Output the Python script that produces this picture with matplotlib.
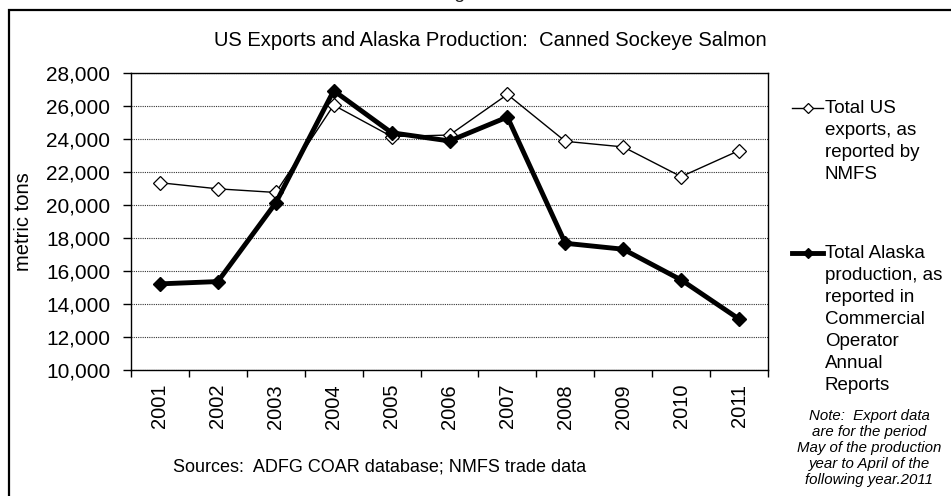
import matplotlib
matplotlib.use("Agg")
import matplotlib.pyplot as plt
from matplotlib.patches import Rectangle
from matplotlib.lines import Line2D
from matplotlib.ticker import FuncFormatter, FixedLocator

plt.rcParams['font.family'] = ['Liberation Sans', 'DejaVu Sans']

years = ["2001", "2002", "2003", "2004", "2005", "2006", "2007", "2008", "2009", "2010", "2011"]
us_exports = [21350, 20980, 20760, 26050, 24150, 24240, 26700, 23860, 23520, 21720, 23300]
alaska_prod = [15220, 15360, 20130, 26930, 24380, 23880, 25330, 17680, 17320, 15460, 13090]

exports_label = "Total US\nexports, as\nreported by\nNMFS"
alaska_label = "Total Alaska\nproduction, as\nreported in\nCommercial\nOperator\nAnnual\nReports"

W, H = 951, 496
fig = plt.figure(figsize=(W / 100, H / 100), dpi=100)

def px(xp, yp):
    # pixel position (from top-left) -> figure fraction
    return xp / W, 1 - yp / H

# outer border of the figure box
fig.patches.append(Rectangle((9 / W, -0.1), 1.2, 1 - 10 / H + 0.1, transform=fig.transFigure,
                             fill=False, edgecolor="black", linewidth=1.6))
# page caption, cut off at the top (only its descenders show)
fig.text(*px(474, -2), "Figure 6", ha="center", va="baseline", fontsize=14, color="#222222")

ax = fig.add_axes([131 / W, 1 - 370 / H, (768 - 131) / W, (370 - 73) / H])

x = list(range(len(years)))
ax.plot(x, us_exports, color="black", linewidth=1.0, marker="D", markersize=7,
        markerfacecolor="white", markeredgecolor="black", markeredgewidth=0.9, zorder=3)
ax.plot(x, alaska_prod, color="black", linewidth=3.5, marker="D", markersize=7,
        markerfacecolor="black", markeredgecolor="black", zorder=4)

ax.set_xlim(-0.5, len(years) - 0.5)
ax.set_ylim(10000, 28000)
ax.set_yticks(range(10000, 28001, 2000))
ax.yaxis.set_major_formatter(FuncFormatter(lambda v, p: f"{int(v):,}"))
ax.grid(axis="y", linestyle=(0, (1, 1)), color="#333333", linewidth=0.8)
ax.set_axisbelow(True)

ax.set_xticks(x)
ax.set_xticklabels(years, rotation=90, fontsize=14.5)
ax.xaxis.set_minor_locator(FixedLocator([i - 0.5 for i in range(len(years) + 1)]))
ax.tick_params(axis="x", which="major", length=0, pad=10)
ax.tick_params(axis="x", which="minor", length=5, width=1, direction="out")
ax.tick_params(axis="y", length=6, width=1, direction="out", labelsize=15, pad=9)

for s in ax.spines.values():
    s.set_linewidth(1.0)
    s.set_color("black")

ax.set_ylabel("metric tons", fontsize=14.5, labelpad=9)
fig.text(*px(490, 40), "US Exports and Alaska Production:  Canned Sockeye Salmon",
         ha="center", va="center", fontsize=14.5)
fig.text(*px(380, 467), "Sources:  ADFG COAR database; NMFS trade data",
         ha="center", va="center", fontsize=13)
fig.text(*px(869, 448),
         "Note:  Export data\nare for the period\nMay of the production\nyear to April of the\nfollowing year.2011",
         ha="center", va="center", fontsize=10.8, style="italic", linespacing=1.2)

# legend entries, handle level with the first text line
for yp, label, lw, face in [(108, exports_label, 1.0, "white"), (253, alaska_label, 3.5, "black")]:
    fig.add_artist(Line2D([792 / W, 823 / W], [1 - yp / H] * 2, transform=fig.transFigure,
                          color="black", linewidth=lw))
    fig.add_artist(Line2D([808 / W], [1 - yp / H], transform=fig.transFigure, marker="D",
                          markersize=5.5, markerfacecolor=face, markeredgecolor="black",
                          markeredgewidth=0.9, linestyle="none"))
    fig.text(*px(825, yp - 8), label, ha="left", va="top", fontsize=13.5, linespacing=1.38)

fig.savefig("out.png", dpi=100)
